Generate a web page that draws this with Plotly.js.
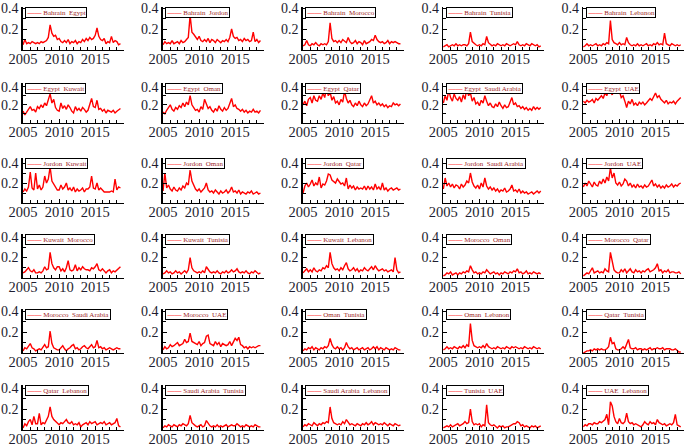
<!DOCTYPE html>
<html>
<head>
<meta charset="utf-8">
<script src="https://cdn.plot.ly/plotly-3.0.1.min.js"></script>
<style>
  html, body { margin: 0; padding: 0; background: #fff; }
  #chart { width: 685px; height: 446px; }
</style>
</head>
<body>
<div id="chart"></div>
<script>
// quarterly dates, 2005 to mid 2018
var years = [2005,2005.25,2005.5,2005.75, 2006,2006.25,2006.5,2006.75, 2007,2007.25,2007.5,2007.75,
  2008,2008.25,2008.5,2008.75, 2009,2009.25,2009.5,2009.75, 2010,2010.25,2010.5,2010.75,
  2011,2011.25,2011.5,2011.75, 2012,2012.25,2012.5,2012.75, 2013,2013.25,2013.5,2013.75,
  2014,2014.25,2014.5,2014.75, 2015,2015.25,2015.5,2015.75, 2016,2016.25,2016.5,2016.75,
  2017,2017.25,2017.5,2017.75, 2018,2018.25,2018.5];

var pairNames = [
  "Bahrain  Egypt", "Bahrain  Jordon", "Bahrain  Morocco", "Bahrain  Tunisia", "Bahrain  Lebanon",
  "Egypt  Kuwait", "Egypt  Oman", "Egypt  Qatar", "Egypt  Saudi Arabia", "Egypt  UAE",
  "Jordon  Kuwait", "Jordon  Oman", "Jordon  Qatar", "Jordon  Saudi Arabia", "Jordon  UAE",
  "Kuwait  Morocco", "Kuwait  Tunisia", "Kuwait  Lebanon", "Morocco  Oman", "Morocco  Qatar",
  "Morocco  Saudi Arabia", "Morocco  UAE", "Oman  Tunisia", "Oman  Lebanon", "Qatar  Tunisia",
  "Qatar  Lebanon", "Saudi Arabia  Tunisia", "Saudi Arabia  Lebanon", "Tunisia  UAE", "UAE  Lebanon"
];

var bahrainEgypt = [.05,.10,.06,.07, .06,.08,.07,.06, .07,.06,.08,.07, .08,.09,.12,.24, .16,.13,.14,.10,
  .11,.08,.07,.09, .07,.10,.06,.08, .07,.09,.06,.08, .07,.10,.08,.11, .09,.12,.10,.11, .14,.21,.13,.10,
  .09,.11,.06,.08, .07,.13,.07,.09, .08,.05,.06];
var bahrainJordon = [.05,.08,.06,.07, .06,.09,.06,.07, .08,.06,.09,.07, .08,.10,.12,.33, .17,.15,.12,.10,
  .13,.09,.08,.10, .08,.11,.07,.10, .09,.07,.10,.08, .07,.09,.08,.10, .08,.12,.20,.13, .11,.12,.09,.10,
  .08,.11,.09,.10, .08,.09,.17,.08, .10,.07,.09];
var bahrainMorocco = [.04,.05,.09,.05, .04,.06,.05,.07, .05,.04,.06,.05, .06,.05,.08,.26, .11,.08,.09,.07,
  .09,.07,.10,.08, .07,.12,.08,.06, .07,.09,.06,.08, .07,.05,.09,.06, .07,.08,.10,.09, .14,.10,.08,.07,
  .08,.06,.07,.09, .06,.08,.07,.08, .07,.06,.06];
var bahrainTunisia = [.03,.04,.05,.03, .04,.05,.04,.06, .04,.05,.04,.05, .05,.04,.06,.17, .08,.06,.05,.04,
  .05,.04,.06,.05, .13,.07,.05,.04, .05,.04,.06,.05, .04,.05,.04,.06, .05,.04,.05,.06, .05,.08,.05,.04,
  .05,.04,.06,.05, .04,.06,.05,.04, .05,.03,.04];
var bahrainLebanon = [.03,.04,.06,.04, .05,.04,.05,.06, .04,.05,.04,.06, .05,.07,.06,.28, .10,.07,.06,.05,
  .07,.05,.06,.05, .12,.07,.05,.04, .05,.04,.06,.04, .05,.04,.05,.06, .04,.05,.04,.06, .05,.07,.05,.06,
  .05,.16,.06,.05, .04,.06,.05,.04, .05,.04,.05];

var egyptKuwait = [.13,.09,.12,.15, .18,.14,.15,.12, .18,.16,.20,.17, .22,.19,.25,.32, .22,.26,.17,.14,
  .13,.22,.16,.19, .15,.20,.17,.13, .11,.18,.14,.16, .13,.17,.15,.12, .14,.20,.27,.18, .17,.25,.15,.16,
  .13,.15,.11,.14, .13,.12,.14,.11, .13,.15,.16];
var egyptOman = [.12,.10,.14,.17, .20,.15,.13,.17, .15,.19,.17,.22, .18,.23,.20,.30, .20,.17,.14,.15,
  .12,.18,.15,.26, .20,.16,.18,.14, .12,.16,.13,.19, .15,.13,.17,.14, .16,.21,.27,.18, .20,.16,.15,.13,
  .15,.12,.14,.11, .13,.12,.15,.12, .13,.11,.14];
var egyptQatar = [.20,.24,.19,.26, .28,.22,.30,.25, .24,.30,.26,.33, .28,.38,.30,.34, .25,.29,.22,.24,
  .20,.26,.23,.35, .27,.22,.25,.20, .18,.22,.19,.24, .20,.18,.22,.19, .21,.25,.30,.22, .24,.20,.22,.19,
  .21,.18,.20,.17, .19,.18,.22,.20, .21,.19,.21];
var egyptSaudi = [.22,.30,.25,.36, .28,.24,.32,.27, .25,.29,.23,.31, .26,.38,.30,.33, .24,.28,.21,.23,
  .19,.25,.22,.30, .24,.19,.22,.18, .17,.21,.18,.23, .19,.16,.20,.17, .18,.24,.28,.20, .22,.18,.19,.16,
  .18,.15,.17,.14, .16,.14,.18,.15, .17,.15,.17];
var egyptUAE = [.24,.22,.25,.23, .24,.26,.22,.27, .25,.28,.30,.27, .33,.30,.37,.34, .31,.36,.44,.33,
  .35,.28,.30,.24, .17,.24,.21,.26, .20,.22,.19,.23, .21,.23,.20,.22, .24,.27,.25,.30, .33,.28,.30,.26,
  .24,.22,.25,.21, .23,.22,.24,.21, .24,.26,.28];

var jordonKuwait = [.11,.14,.12,.16, .31,.15,.13,.30, .14,.18,.13,.16, .27,.20,.24,.36, .22,.19,.16,.13,
  .13,.18,.14,.16, .20,.13,.15,.12, .16,.11,.14,.12, .13,.15,.11,.14, .14,.16,.27,.15, .14,.20,.13,.15,
  .13,.11,.11,.11, .11,.12,.11,.24, .13,.16,.15];
var jordonOman = [.12,.30,.15,.18, .14,.12,.16,.13, .12,.15,.13,.17, .15,.20,.18,.33, .22,.17,.14,.12,
  .14,.11,.13,.15, .20,.13,.11,.12, .10,.13,.11,.09, .12,.10,.11,.13, .10,.12,.16,.11, .12,.10,.13,.09,
  .11,.10,.09,.11, .10,.12,.09,.10, .11,.09,.10];
var jordonQatar = [.10,.17,.20,.16, .19,.23,.17,.20, .18,.26,.15,.19, .18,.22,.29,.28, .23,.21,.20,.24,
  .22,.19,.20,.17, .25,.14,.18,.15, .17,.13,.16,.14, .15,.14,.17,.13, .17,.14,.16,.13, .19,.14,.16,.13,
  .20,.13,.15,.12, .14,.15,.13,.14, .15,.13,.14];
var jordonSaudi = [.14,.25,.17,.20, .16,.19,.15,.18, .17,.14,.19,.16, .18,.22,.20,.30, .21,.17,.15,.18,
  .14,.20,.16,.25, .17,.14,.16,.13, .15,.12,.14,.11, .13,.12,.15,.11, .12,.14,.18,.12, .13,.11,.14,.10,
  .12,.10,.11,.09, .10,.11,.09,.11, .12,.10,.12];
var jordonUAE = [.16,.20,.17,.22, .19,.16,.21,.18, .17,.22,.19,.24, .20,.26,.22,.35, .25,.30,.20,.18,
  .21,.17,.19,.24, .22,.17,.20,.16, .18,.15,.19,.16, .17,.15,.18,.16, .17,.20,.23,.17, .19,.16,.18,.15,
  .17,.15,.18,.16, .17,.19,.16,.18, .17,.19,.20];

var kuwaitMorocco = [.05,.06,.08,.10, .07,.06,.08,.05, .05,.06,.05,.07, .11,.08,.09,.25, .14,.10,.08,.11,
  .11,.07,.09,.06, .10,.17,.08,.07, .08,.13,.07,.10, .08,.11,.09,.08, .08,.07,.10,.09, .11,.14,.08,.07,
  .09,.07,.05,.07, .08,.05,.07,.06, .08,.10,.11];
var kuwaitTunisia = [.04,.05,.07,.05, .06,.04,.05,.07, .05,.06,.04,.06, .07,.05,.08,.20, .10,.07,.06,.05,
  .06,.05,.07,.05, .11,.08,.06,.05, .06,.05,.07,.05, .04,.06,.05,.07, .05,.06,.08,.06, .07,.09,.06,.05,
  .06,.05,.07,.05, .04,.06,.05,.07, .05,.04,.05];
var kuwaitLebanon = [.05,.07,.09,.06, .08,.06,.10,.07, .06,.08,.07,.10, .09,.12,.10,.25, .14,.10,.08,.09,
  .07,.10,.08,.12, .15,.09,.07,.08, .10,.07,.09,.06, .08,.07,.10,.08, .07,.09,.11,.08, .12,.09,.07,.08,
  .09,.07,.08,.06, .07,.08,.06,.20, .08,.05,.06];
var moroccoOman = [.02,.03,.05,.04, .06,.03,.04,.05, .03,.05,.04,.06, .05,.07,.06,.12, .08,.05,.06,.04,
  .05,.04,.06,.05, .08,.06,.04,.05, .06,.04,.05,.03, .05,.04,.06,.05, .04,.06,.05,.07, .06,.09,.05,.06,
  .04,.05,.07,.04, .05,.04,.06,.05, .04,.05,.04];
var moroccoQatar = [.02,.04,.05,.04, .07,.10,.05,.06, .07,.05,.06,.05, .09,.07,.06,.25, .16,.08,.06,.05,
  .05,.08,.06,.09, .05,.07,.09,.06, .05,.08,.06,.07, .05,.07,.06,.08, .09,.06,.07,.08, .10,.14,.07,.08,
  .05,.07,.06,.08, .05,.06,.06,.05, .05,.06,.04];

var moroccoSaudi = [.02,.05,.04,.07, .09,.05,.04,.02, .03,.04,.03,.05, .08,.05,.06,.21, .09,.05,.04,.03,
  .03,.05,.07,.04, .02,.04,.05,.07, .08,.04,.05,.03, .04,.06,.07,.05, .04,.06,.08,.05, .06,.12,.05,.06,
  .04,.05,.03,.04, .05,.04,.03,.04, .05,.04,.04];
var moroccoUAE = [.03,.06,.04,.05, .08,.06,.07,.09, .10,.07,.08,.09, .13,.10,.11,.19, .11,.10,.09,.08,
  .11,.07,.09,.10, .16,.17,.09,.08, .07,.11,.08,.10, .06,.09,.08,.07, .08,.11,.07,.10, .14,.12,.15,.08,
  .07,.05,.06,.04, .06,.05,.06,.05, .06,.07,.07];
var omanTunisia = [.02,.04,.03,.05, .04,.06,.03,.05, .04,.03,.05,.04, .06,.05,.07,.14, .08,.05,.04,.06,
  .04,.05,.03,.05, .10,.06,.04,.05, .03,.04,.05,.03, .04,.05,.03,.04, .05,.03,.04,.06, .04,.06,.03,.05,
  .04,.03,.05,.04, .03,.04,.03,.05, .04,.03,.03];
var omanLebanon = [.03,.04,.06,.04, .05,.04,.06,.05, .04,.06,.05,.07, .05,.08,.06,.28, .12,.07,.06,.05,
  .06,.05,.07,.05, .09,.06,.05,.04, .05,.04,.06,.05, .04,.05,.04,.06, .05,.04,.06,.05, .06,.05,.04,.05,
  .04,.06,.05,.04, .05,.04,.06,.05, .04,.05,.04];
var qatarTunisia = [.00,.01,.02,.02, .03,.02,.04,.03, .04,.03,.04,.03, .03,.04,.06,.15, .09,.10,.04,.03,
  .03,.04,.06,.04, .09,.13,.05,.04, .04,.05,.03,.04, .04,.03,.04,.03, .04,.05,.03,.04, .04,.05,.04,.04,
  .05,.03,.04,.04, .04,.03,.03,.04, .02,.01,.01];

var qatarLebanon = [.02,.06,.04,.08, .10,.05,.13,.06, .06,.16,.05,.07, .06,.10,.13,.22, .13,.10,.08,.06,
  .05,.07,.06,.08, .10,.07,.06,.08, .05,.06,.05,.07, .03,.05,.06,.07, .05,.08,.06,.07, .08,.05,.06,.07,
  .06,.08,.05,.06, .07,.05,.06,.07, .11,.04,.03];
var saudiTunisia = [.02,.04,.03,.05, .04,.03,.05,.04, .03,.05,.04,.06, .05,.04,.06,.14, .07,.05,.04,.03,
  .04,.05,.03,.04, .09,.06,.04,.03, .04,.03,.05,.03, .04,.03,.04,.05, .03,.04,.05,.04, .04,.06,.04,.03,
  .04,.03,.05,.04, .03,.04,.03,.05, .04,.03,.03];
var saudiLebanon = [.03,.05,.04,.06, .05,.04,.07,.05, .04,.06,.05,.07, .06,.08,.07,.22, .11,.07,.06,.05,
  .06,.05,.08,.06, .10,.07,.05,.06, .05,.04,.06,.05, .04,.06,.05,.07, .05,.06,.08,.05, .07,.06,.05,.06,
  .05,.07,.05,.04, .06,.05,.04,.06, .05,.04,.05];
var tunisiaUAE = [.02,.03,.04,.03, .05,.03,.04,.05, .06,.04,.05,.06, .08,.06,.07,.20, .08,.05,.06,.05,
  .06,.03,.05,.04, .24,.07,.05,.04, .05,.03,.02,.04, .03,.04,.02,.03, .03,.04,.05,.06, .06,.08,.07,.04,
  .05,.03,.04,.03, .02,.04,.03,.04, .02,.03,.04];
var uaeLebanon = [.03,.05,.04,.06, .06,.05,.07,.06, .06,.08,.07,.09, .10,.15,.05,.27, .23,.13,.08,.06,
  .11,.07,.06,.08, .16,.08,.06,.07, .05,.06,.05,.04, .03,.05,.08,.06, .05,.08,.06,.07, .05,.10,.07,.06,
  .05,.06,.04,.05, .06,.05,.07,.15, .05,.04,.03];

var series = [
  bahrainEgypt, bahrainJordon, bahrainMorocco, bahrainTunisia, bahrainLebanon,
  egyptKuwait, egyptOman, egyptQatar, egyptSaudi, egyptUAE,
  jordonKuwait, jordonOman, jordonQatar, jordonSaudi, jordonUAE,
  kuwaitMorocco, kuwaitTunisia, kuwaitLebanon, moroccoOman, moroccoQatar,
  moroccoSaudi, moroccoUAE, omanTunisia, omanLebanon, qatarTunisia,
  qatarLebanon, saudiTunisia, saudiLebanon, tunisiaUAE, uaeLebanon
];

// panel placement in pixels
var W = 685, H = 446;
var colLeft = [22.7, 162.7, 302.7, 443, 583];
var plotW = 101;
var rowTop = [7, 83, 158, 234, 309, 385];
var rowBottom = [50, 123, 203, 278, 353, 430];
var yMax = [0.41, 0.44, 0.45, 0.43, 0.42, 0.43];

var serif = "Liberation Serif, Times New Roman, serif";
var xFont = {family: serif, size: 14.5, color: "#1e1e30"};
var yFont = {family: serif, size: 14, color: "#1e1e30"};

var data = [];
var layout = {
  width: W, height: H,
  margin: {l: 0, r: 0, t: 0, b: 0},
  paper_bgcolor: "#fff",
  plot_bgcolor: "#fff",
  showlegend: false,
  annotations: []
};

for (var i = 0; i < series.length; i++) {
  var row = Math.floor(i / 5), col = i % 5;
  var n = i + 1;
  var xa = "xaxis" + (n === 1 ? "" : n), ya = "yaxis" + (n === 1 ? "" : n);
  var xr = "x" + (n === 1 ? "" : n), yr = "y" + (n === 1 ? "" : n);

  data.push({
    x: years, y: series[i],
    xaxis: xr, yaxis: yr,
    type: "scatter", mode: "lines",
    line: {color: "#ff0000", width: 1.4},
    name: pairNames[i],
    hoverinfo: "skip"
  });

  layout[xa] = {
    domain: [colLeft[col] / W, (colLeft[col] + plotW) / W],
    anchor: yr,
    range: [2004.95, 2018.95],
    tickvals: [2005, 2010, 2015],
    ticktext: ["2005", "2010", "2015"],
    ticks: "inside", ticklen: 4, tickwidth: 1, tickcolor: "#000",
    minor: {dtick: 1, tick0: 2005, ticks: "inside", ticklen: 3, tickcolor: "#000"},
    showline: true, linecolor: "#000", linewidth: 1.3,
    showgrid: false, zeroline: false,
    ticklabelstandoff: -5,
    tickfont: xFont
  };
  layout[ya] = {
    domain: [1 - rowBottom[row] / H, 1 - rowTop[row] / H],
    anchor: xr,
    range: [0, yMax[row]],
    tickvals: [0.2, 0.4],
    ticktext: ["0.2", "0.4"],
    ticks: "inside", ticklen: 4, tickwidth: 1, tickcolor: "#000",
    minor: {dtick: 0.1, tick0: 0, ticks: "inside", ticklen: 3, tickcolor: "#000"},
    showline: true, linecolor: "#000", linewidth: 1.3,
    showgrid: false, zeroline: false,
    tickfont: yFont
  };

  layout.annotations.push({
    xref: xr + " domain", yref: yr + " domain",
    x: 0.025, y: 1, xanchor: "left", yanchor: "top",
    showarrow: false,
    text: '<span style="color:#ff0000"><b>——</b></span> ' + pairNames[i],
    font: {family: serif, size: 7, color: "#a02828"},
    bgcolor: "#fff",
    bordercolor: "#000", borderwidth: 1, borderpad: 0.5
  });
}

Plotly.newPlot("chart", data, layout, {staticPlot: true, displayModeBar: false});
</script>
</body>
</html>
